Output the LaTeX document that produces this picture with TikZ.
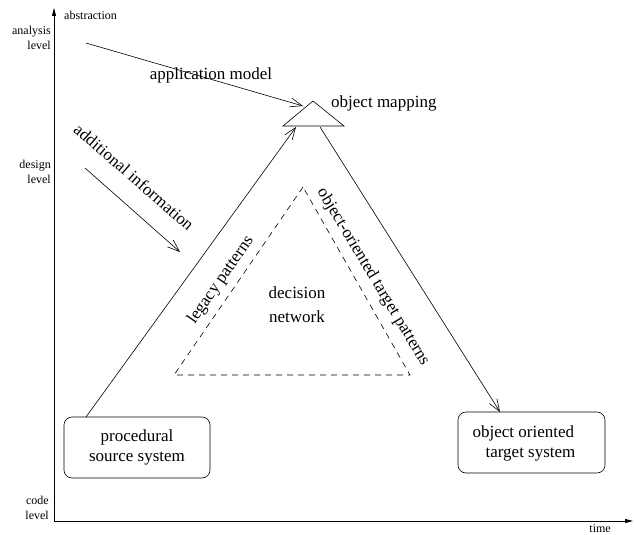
\documentclass[tikz,border=0pt]{standalone}
\usepackage{fontspec}
\setmainfont{Liberation Serif}
\usetikzlibrary{arrows.meta}
\begin{document}
\begin{tikzpicture}[x=1pt,y=-1pt,
  big/.style={font=\fontsize{17}{20}\selectfont, inner sep=1pt},
  small/.style={font=\fontsize{12}{15}\selectfont, inner sep=1pt},
  sysbox/.style={draw, rounded corners=8pt, line width=0.6pt},
  flow/.style={line width=0.6pt, -{Straight Barb[length=12pt,width=9pt]}},
  axis/.style={line width=0.8pt, -{Triangle[length=8pt,width=4pt]}},
  dashline/.style={line width=0.6pt, dash pattern=on 6pt off 5pt}]
\useasboundingbox (0,0) rectangle (634,535);
% axes
\coordinate (O) at (54,521);
\coordinate (Ytop) at (54,8);
\coordinate (Xend) at (633,521);
\draw[axis] (O) -- (Ytop);
\draw[axis] (O) -- (Xend);
\node[small, anchor=west] (abs) at (63,15) {abstraction};
\node[small, anchor=east, align=right] (ana) at (52,38) {analysis\\level};
\node[small, anchor=east, align=right] (des) at (52,172) {design\\level};
\node[small, anchor=east, align=right] (cod) at (50,508) {code\\level};
\node[small, anchor=east] (time) at (612,529) {time};
% boxes
\draw[sysbox] (64,417) rectangle (210,478);
\node[big, align=center] (src) at (137,447) {procedural\\source system};
\draw[sysbox] (458,412) rectangle (605,473);
\node[big, align=left] (tgt) at (524,443) {object oriented\\\hspace*{13pt}target system};
% mapping triangle
\coordinate (mA) at (313,101);
\coordinate (mL) at (283,126);
\coordinate (mR) at (344,126);
\draw[line width=0.6pt] (mA) -- (mL) -- (mR) -- cycle;
\node[big, anchor=west] (map) at (330,103) {object mapping};
% flows
\coordinate (amS) at (86,43);
\coordinate (amE) at (303,106);
\draw[flow] (amS) -- (amE);
\node[big] (am) at (211,75) {application model};
\coordinate (lS) at (86,417);
\coordinate (lE) at (296,127);
\draw[flow] (lS) -- (lE);
\coordinate (rS) at (320,127);
\coordinate (rE) at (500,412);
\draw[flow] (rS) -- (rE);
\coordinate (aiS) at (85,168);
\coordinate (aiE) at (180,252);
\draw[flow] (aiS) -- (aiE);
\node[big, rotate=-41] (ai) at (134,177) {additional information};
% dashed decision triangle
\coordinate (dA) at (303,187);
\coordinate (dL) at (174,375);
\coordinate (dR) at (410,375);
\draw[dashline] (dA) -- (dL) -- (dR) -- cycle;
\node[big, align=center] (dn) at (297,305) {decision\\[4pt]network};
\node[big, rotate=55] (lp) at (221,280) {legacy patterns};
\node[big, rotate=-59] (otp) at (373,277) {object-oriented target patterns};
\end{tikzpicture}
\end{document}
